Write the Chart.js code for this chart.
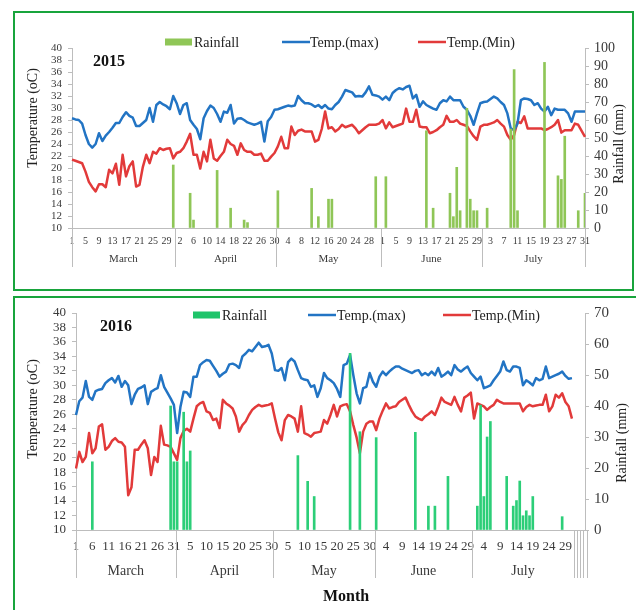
<!DOCTYPE html>
<html><head><meta charset="utf-8">
<script src="https://cdn.jsdelivr.net/npm/chart.js@4.4.0/dist/chart.umd.min.js"></script>
<style>
html,body{margin:0;padding:0;background:#fff;width:636px;height:610px;overflow:hidden;position:relative;}
.panel{position:absolute;box-sizing:border-box;border:2px solid #18a43c;}
canvas{position:absolute;left:0;}
</style></head><body>
<div class="panel" style="left:13px;top:11px;width:621px;height:280px;"></div>
<div class="panel" style="left:13px;top:296px;width:640px;height:330px;"></div>
<canvas id="c1" width="636" height="295" style="top:0"></canvas>
<canvas id="c2" width="636" height="315" style="top:295px"></canvas>
<script>
// ---------------- DATA ----------------
const years = ['2015', '2016'];
const months = ['March', 'April', 'May', 'June', 'July'];
const monthDays = [31, 30, 31, 30, 31];
const labelStep2015 = 4;
const labelStep2016 = 5;
const seriesNames = ['Rainfall', 'Temp.(max)', 'Temp.(Min)'];
const tempAxisRange = [10, 40, 2];
const rainAxisRange2015 = [0, 100, 10];
const rainAxisRange2016 = [0, 70, 10];

const tmax2015 = [
28.3,28.1,28.0,27.4,25.5,24.0,23.4,24.0,25.8,24.5,
25.4,26.0,26.7,27.5,27.5,28.5,29.3,28.7,28.4,27.0,
27.0,27.5,28.0,30.0,27.7,30.5,31.0,30.6,30.3,29.8,
32.0,30.8,29.0,30.5,30.8,28.0,27.2,26.5,24.8,28.3,
29.5,30.4,30.0,29.0,27.7,29.4,29.2,30.5,27.4,28.2,
28.3,28.0,27.6,27.4,27.2,27.4,27.7,24.4,27.8,28.5,
29.7,29.8,30.0,30.2,30.4,30.3,30.4,32.0,31.3,30.8,
30.8,30.6,30.2,30.5,30.0,30.5,29.9,29.8,30.5,31.0,
31.9,33.0,32.8,32.6,31.9,32.0,31.9,32.6,33.6,32.2,
32.1,31.9,31.4,31.9,31.3,32.5,33.0,33.3,33.1,33.5,
33.7,31.6,32.2,30.2,31.1,30.5,30.2,29.9,29.7,30.8,
31.3,31.1,31.9,31.3,31.3,31.3,30.2,29.7,28.7,27.2,
29.1,30.8,31.0,31.1,31.5,31.9,31.6,31.0,30.5,29.1,
26.6,26.3,27.4,31.3,31.6,31.5,31.3,30.5,30.8,29.9,
29.4,30.2,28.8,29.9,29.7,29.7,29.7,29.1,27.7,29.4,
29.4,29.4,29.4];
const tmin2015 = [
21.4,21.2,21.0,20.8,19.4,17.7,16.8,16.1,17.3,17.3,
16.8,19.7,19.1,20.7,17.2,22.2,18.6,20.3,21.1,16.9,
17.2,20.2,22.2,20.8,22.7,22.4,23.3,23.0,23.2,23.3,
21.6,22.5,22.7,23.3,24.4,25.7,22.2,22.2,19.9,22.7,
21.1,24.7,21.6,21.2,22.0,22.7,24.7,24.0,23.7,22.2,
24.1,23.0,22.7,22.7,22.2,22.2,22.4,21.2,21.2,21.9,
22.5,23.6,25.2,23.3,23.3,26.9,25.5,26.2,26.4,26.1,
26.1,26.1,24.4,24.7,26.5,29.4,26.6,26.8,26.1,26.5,
27.2,26.8,27.0,27.2,26.6,25.8,26.3,26.8,27.2,27.2,
27.2,27.4,28.0,26.6,27.6,26.8,27.0,27.2,27.4,29.9,
27.7,27.7,29.7,26.9,26.8,26.8,25.8,26.0,26.3,26.8,
27.2,28.7,27.7,27.7,28.0,27.4,27.2,27.0,26.1,25.3,
24.7,26.9,27.2,27.2,27.4,27.6,28.0,27.4,26.9,25.5,
24.7,25.5,27.7,27.5,28.6,26.6,26.6,26.6,26.6,26.6,
26.3,26.5,26.8,27.2,28.0,25.9,26.3,26.3,26.3,27.4,
27.2,26.2,25.2];
const rainDays2015 = [31,36,37,44,48,52,53,62,72,74,77,78,91,94,106,108,113,114,115,116,118,119,120,121,124,131,132,133,141,145,146,147,151,153];
const rainMm2015   = [35,19.3,4.4,32,11,4.4,3,20.7,22,6.3,16,16,28.5,28.5,54,11,19.3,6.3,33.7,9.6,66.5,16,9.6,9.6,11,55,88,9.6,92,29,27,51,9.6,19.3];

const tmax2016 = [
25.9,27.8,28.3,30.6,28.4,28.0,29.2,29.4,29.5,30.3,
30.7,31.0,30.4,31.3,29.8,30.6,30.0,27.4,28.7,29.5,
29.7,30.0,27.4,29.1,29.4,29.6,31.4,29.8,29.0,28.2,
27.3,23.4,27.0,29.1,29.0,28.4,31.2,31.2,32.8,33.2,
33.5,33.4,32.7,32.0,31.2,31.6,31.9,32.9,33.0,32.8,
32.4,34.0,34.4,34.9,34.7,35.3,35.9,35.3,35.4,35.6,
34.4,32.1,32.0,32.4,30.7,33.2,33.7,33.3,32.1,31.0,
30.8,30.7,29.8,30.0,28.4,29.6,31.7,31.0,30.7,30.3,
29.5,28.4,32.8,33.0,34.2,31.4,28.9,27.5,29.6,29.8,
31.7,30.5,29.8,31.2,31.9,31.4,31.9,32.3,32.6,32.6,
32.3,32.1,31.9,31.7,32.0,32.1,31.4,31.7,31.4,31.9,
31.4,32.4,31.2,31.5,31.9,31.4,32.8,32.2,31.9,32.3,
32.6,31.7,31.2,30.7,31.2,29.6,29.8,30.0,30.7,31.3,
31.9,33.3,32.1,31.9,32.6,32.6,32.4,30.0,30.7,30.4,
30.0,31.0,30.7,30.9,32.6,31.0,31.2,31.4,31.6,31.9,
31.3,30.9,31.0];
const tmin2016 = [
18.5,20.8,19.4,20.1,23.4,20.6,21.3,24.3,24.6,21.1,
21.5,22.3,22.7,22.2,22.1,21.5,14.8,15.9,21.1,21.1,
21.8,22.4,21.3,17.6,20.1,19.4,24.4,21.8,21.7,21.5,
20.6,19.7,22.7,23.7,24.0,23.6,25.4,27.1,27.5,27.7,
26.4,26.2,25.2,25.4,24.1,28.0,27.5,27.2,26.8,25.7,
23.6,24.5,25.0,25.9,26.6,27.0,27.3,27.1,27.2,27.3,
27.5,25.4,23.5,22.4,25.2,25.9,25.7,25.4,23.6,27.1,
23.4,23.2,22.9,23.4,23.5,23.6,25.2,24.7,25.9,27.3,
25.7,27.1,27.3,27.4,26.4,24.5,22.8,20.6,23.6,24.7,
25.0,25.0,23.8,25.4,26.5,27.5,26.8,27.0,27.1,27.7,
28.0,28.3,27.3,26.4,25.7,25.4,25.2,25.7,26.0,26.4,
25.9,27.0,28.3,27.7,27.5,27.3,28.4,27.3,26.4,28.3,
28.6,29.0,25.4,27.5,27.3,27.1,26.6,27.0,27.3,28.0,
27.7,27.5,27.5,27.5,27.5,27.5,27.5,26.4,27.0,27.3,
27.1,27.2,27.3,27.3,28.7,26.4,27.1,28.7,28.3,28.9,
27.7,27.1,25.4];
const rainDays2016 = [6,30,31,32,34,35,36,69,72,74,85,88,93,105,109,111,115,124,125,126,127,128,133,135,136,137,138,139,140,141,150];
const rainMm2016   = [22,40,22,22,38,22,25.5,24,15.7,10.8,57,31.7,29.8,31.5,7.7,7.7,17.3,7.7,40.3,10.8,30,35,17.3,7.7,9.5,15.8,4.6,6.2,4.6,10.8,4.3];
const trailingEmptySlots2016 = 4;

// ---------------- STYLE ----------------
const FONT = "'Liberation Serif','Times New Roman',serif";
const AXIS = '#bdbdbd';
const TXT = '#3a3a3a';
const BLUE = '#2274c4';
const RED = '#e23a3a';
Chart.defaults.font.family = FONT;
Chart.defaults.color = TXT;

const dayNumbers = [];
monthDays.forEach(n => { for (let d = 1; d <= n; d++) dayNumbers.push(d); });

function rainSeries(days, mm, n) {
  const arr = new Array(n).fill(null);
  days.forEach((d, i) => { arr[d - 1] = mm[i]; });
  return arr;
}

const deco = {
  id: 'deco',
  afterDraw(chart, args, o) {
    const ctx = chart.ctx, xs = chart.scales.x, area = chart.chartArea;
    const px = i => xs.getPixelForValue(i);
    const half = (px(1) - px(0)) / 2;
    ctx.save();
    ctx.strokeStyle = AXIS; ctx.lineWidth = 1;
    const vline = x => { const xx = Math.round(x) + 0.5; ctx.beginPath(); ctx.moveTo(xx, area.bottom); ctx.lineTo(xx, o.sepBottom); ctx.stroke(); };
    let idx = 0; const bounds = [px(0)];
    monthDays.forEach(n => { idx += n; bounds.push(idx - 1 === o.nSlots - 1 ? px(idx - 1) : px(idx - 1) + half); });
    bounds.forEach(vline);
    for (let k = 0; k < o.extra; k++) vline(px(dayNumbers.length + k) + half);
    ctx.fillStyle = TXT; ctx.textAlign = 'center'; ctx.textBaseline = 'middle';
    ctx.font = o.monthSize + 'px ' + FONT;
    months.forEach((m, i) => ctx.fillText(m, (bounds[i] + bounds[i + 1]) / 2, o.monthY));
    ctx.fillStyle = '#111'; ctx.textAlign = 'left';
    ctx.font = 'bold ' + o.titleSize + 'px ' + FONT;
    ctx.fillText(o.year, o.titleX, o.titleY);
    ctx.font = o.legendSize + 'px ' + FONT;
    const ly = o.legendY;
    ctx.fillStyle = o.rainColor; ctx.fillRect(o.legend[0][0], ly - 3.5, 27, 7);
    [BLUE, RED].forEach((c, i) => {
      ctx.strokeStyle = c; ctx.lineWidth = 2.5; ctx.beginPath();
      ctx.moveTo(o.legend[i + 1][0], ly); ctx.lineTo(o.legend[i + 1][0] + 28, ly); ctx.stroke();
    });
    ctx.fillStyle = '#222';
    seriesNames.forEach((s, i) => ctx.fillText(s, o.legend[i][1], ly + 1));
    ctx.font = o.axisTitleSize + 'px ' + FONT; ctx.fillStyle = '#222'; ctx.textAlign = 'center';
    [[o.yTitle, 'Temperature (oC)'], [o.y2Title, 'Rainfall (mm)']].forEach(([p, t]) => {
      ctx.save(); ctx.translate(p[0], p[1]); ctx.rotate(-Math.PI / 2); ctx.fillText(t, 0, 0); ctx.restore();
    });
    if (o.xTitle) {
      ctx.font = 'bold 16px ' + FONT; ctx.fillStyle = '#111';
      ctx.fillText(o.xTitle[2], o.xTitle[0], o.xTitle[1]);
    }
    ctx.restore();
  }
};

function makePanel(p) {
  const n = dayNumbers.length + p.extra;
  const labels = dayNumbers.map(String).concat(new Array(p.extra).fill(''));
  const pad = arr => arr.concat(new Array(p.extra).fill(null));
  new Chart(document.getElementById(p.canvas), {
    type: 'bar',
    data: {
      labels,
      datasets: [
        { type: 'bar', label: seriesNames[0], data: rainSeries(p.rainDays, p.rainMm, n), yAxisID: 'y2',
          backgroundColor: p.rainColor, barThickness: p.barW, order: 0 },
        { type: 'line', label: seriesNames[1], data: pad(p.tmax), yAxisID: 'y', borderColor: BLUE,
          borderWidth: 2.5, pointRadius: 0, tension: 0, order: 1, borderJoinStyle: 'round' },
        { type: 'line', label: seriesNames[2], data: pad(p.tmin), yAxisID: 'y', borderColor: RED,
          borderWidth: 2.5, pointRadius: 0, tension: 0, order: 2, borderJoinStyle: 'round' }
      ]
    },
    options: {
      responsive: false, animation: false, devicePixelRatio: 1,
      layout: { padding: { top: p.area.top, left: 0, right: 0, bottom: 0 } },
      plugins: { legend: { display: false }, tooltip: { enabled: false },
        deco: Object.assign({ nSlots: n }, p.deco) },
      scales: {
        x: { type: 'category', offset: false,
          grid: { display: false, drawTicks: false },
          border: { display: true, color: AXIS },
          ticks: { autoSkip: false, maxRotation: 0, minRotation: 0, padding: p.xPad,
            font: { size: p.xSize }, color: TXT,
            callback: (v, i) => (i < dayNumbers.length && i % p.step === 0) ? labels[i] : '' },
          afterFit: s => { s.height = p.h - p.area.bottom; } },
        y: { position: 'left', min: tempAxisRange[0], max: tempAxisRange[1],
          ticks: { stepSize: tempAxisRange[2], autoSkip: false, padding: 6, font: { size: p.ySize }, color: TXT },
          grid: { drawOnChartArea: false, tickLength: 4, color: AXIS },
          border: { color: AXIS },
          afterFit: s => { s.width = p.area.left; } },
        y2: { position: 'right', min: p.rainRange[0], max: p.rainRange[1],
          ticks: { stepSize: p.rainRange[2], autoSkip: false, padding: 5, font: { size: p.y2Size }, color: TXT },
          grid: { drawOnChartArea: false, tickLength: 4, color: AXIS },
          border: { color: AXIS },
          afterFit: s => { s.width = p.w - p.area.right; } }
      }
    },
    plugins: [deco]
  });
}

makePanel({
  canvas: 'c1', w: 636, h: 295, area: { left: 72, right: 585, top: 48, bottom: 228 },
  extra: 0, step: labelStep2015, xSize: 10, xPad: 7, ySize: 11, y2Size: 14,
  tmax: tmax2015, tmin: tmin2015, rainDays: rainDays2015, rainMm: rainMm2015,
  rainRange: rainAxisRange2015, rainColor: '#8fc657', barW: 2,
  deco: { year: years[0], extra: 0, monthSize: 11, monthY: 259, sepBottom: 267,
    titleSize: 16, titleX: 93, titleY: 62, legendSize: 14, legendY: 42,
    legend: [[165, 194], [282, 310], [418, 447]], rainColor: '#8fc657',
    axisTitleSize: 14, yTitle: [33, 118], y2Title: [619, 144] }
});
makePanel({
  canvas: 'c2', w: 636, h: 315, area: { left: 76, right: 585, top: 18, bottom: 235 },
  extra: trailingEmptySlots2016, step: labelStep2016, xSize: 13, xPad: 9, ySize: 13, y2Size: 15,
  tmax: tmax2016, tmin: tmin2016, rainDays: rainDays2016, rainMm: rainMm2016,
  rainRange: rainAxisRange2016, rainColor: '#2cce78', barW: 2,
  deco: { year: years[1], extra: trailingEmptySlots2016, monthSize: 14, monthY: 276, sepBottom: 283,
    titleSize: 16, titleX: 100, titleY: 32, legendSize: 14, legendY: 20,
    legend: [[193, 222], [308, 337], [443, 472]], rainColor: '#1fc46a',
    axisTitleSize: 14, yTitle: [33, 114], y2Title: [622, 148], xTitle: [346, 302, 'Month'] }
});
</script>
</body></html>
